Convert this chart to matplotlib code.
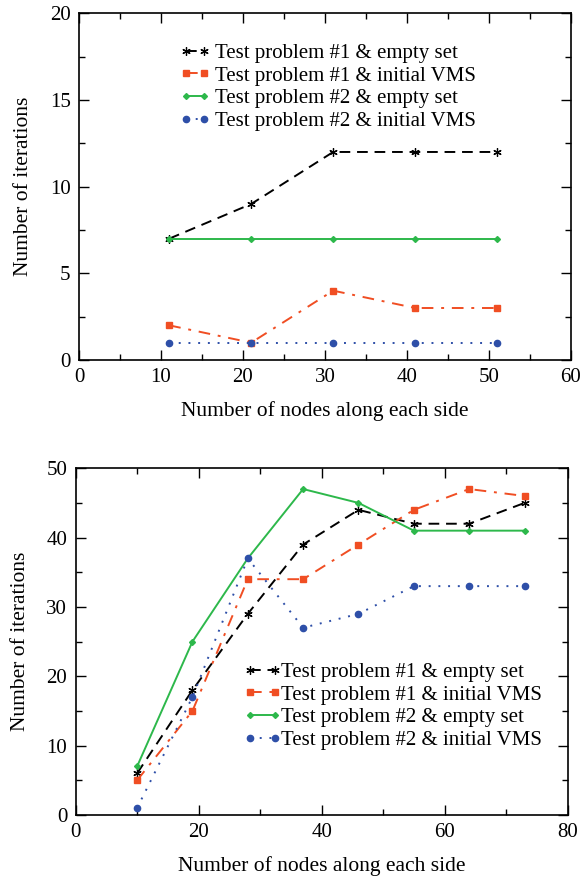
import matplotlib
matplotlib.use('Agg')
import matplotlib.pyplot as plt
from matplotlib.ticker import MultipleLocator

plt.rcParams['font.family'] = ['Liberation Serif', 'DejaVu Serif']
plt.rcParams['mathtext.fontset'] = 'stix'

# top panel
nodes1 = [11, 21, 31, 41, 51]
p1_empty1 = [7, 9, 12, 12, 12]
p1_vms1 = [2, 1, 4, 3, 3]
p2_empty1 = [7, 7, 7, 7, 7]
p2_vms1 = [1, 1, 1, 1, 1]

# bottom panel
nodes2 = [10, 19, 28, 37, 46, 55, 64, 73]
p1_empty2 = [6, 18, 29, 39, 44, 42, 42, 45]
p1_vms2 = [5, 15, 34, 34, 39, 44, 47, 46]
p2_empty2 = [7, 25, 37, 47, 45, 41, 41, 41]
p2_vms2 = [1, 17, 37, 27, 29, 33, 33, 33]

labels = ['Test problem #1 & empty set', 'Test problem #1 & initial VMS',
          'Test problem #2 & empty set', 'Test problem #2 & initial VMS']

black = '#000000'
red = '#F04E23'
green = '#2DB84B'
blue = '#2E4FA8'
fs = 15


def draw(ax, x, series):
    styles = [
        dict(color=black, ls=(0, (5.5, 3.5)), marker=(6, 2, 0), ms=6, mew=0.9),
        dict(color=red, ls=(0, (6, 4, 1.5, 4)), marker='s', ms=4.2),
        dict(color=green, ls='-', marker='D', ms=3),
        dict(color=blue, ls=(0, (1, 4)), marker='o', ms=4.5),
    ]
    for y, lab, st in zip(series, labels, styles):
        ax.plot(x, y, lw=1.4, label=lab, **st)


def style(ax):
    ax.tick_params(which='both', direction='in', top=True, right=True,
                   labelsize=fs, pad=6)
    ax.tick_params(which='major', length=7, width=1)
    ax.tick_params(which='minor', length=4, width=1)
    for s in ax.spines.values():
        s.set_linewidth(1.2)
    ax.set_xlabel('Number of nodes along each side', fontsize=15.5, labelpad=10)
    ax.set_ylabel('Number of iterations', fontsize=15.5, labelpad=12)


fig = plt.figure(figsize=(5.86, 8.8), dpi=100)

ax1 = fig.add_axes([0.1348, 0.5909, 0.8396, 0.394])
draw(ax1, nodes1, [p1_empty1, p1_vms1, p2_empty1, p2_vms1])
ax1.set_xlim(0, 60)
ax1.set_ylim(0, 20)
ax1.xaxis.set_major_locator(MultipleLocator(10))
ax1.xaxis.set_minor_locator(MultipleLocator(5))
ax1.yaxis.set_major_locator(MultipleLocator(5))
ax1.yaxis.set_minor_locator(MultipleLocator(2.5))
style(ax1)
ax1.legend(loc='upper left', bbox_to_anchor=(0.183, 0.943), frameon=False,
           fontsize=fs, numpoints=2, handlelength=1.5, handletextpad=0.2,
           labelspacing=0.15, borderpad=0)

ax2 = fig.add_axes([0.129, 0.0739, 0.8396, 0.394])
draw(ax2, nodes2, [p1_empty2, p1_vms2, p2_empty2, p2_vms2])
ax2.set_xlim(0, 80)
ax2.set_ylim(0, 50)
ax2.xaxis.set_major_locator(MultipleLocator(20))
ax2.xaxis.set_minor_locator(MultipleLocator(10))
ax2.yaxis.set_major_locator(MultipleLocator(10))
ax2.yaxis.set_minor_locator(MultipleLocator(5))
style(ax2)
ax2.legend(loc='upper left', bbox_to_anchor=(0.321, 0.47), frameon=False,
           fontsize=fs, numpoints=2, handlelength=1.77, handletextpad=0.0,
           labelspacing=0.15, borderpad=0)

fig.savefig('out.png', dpi=100)
